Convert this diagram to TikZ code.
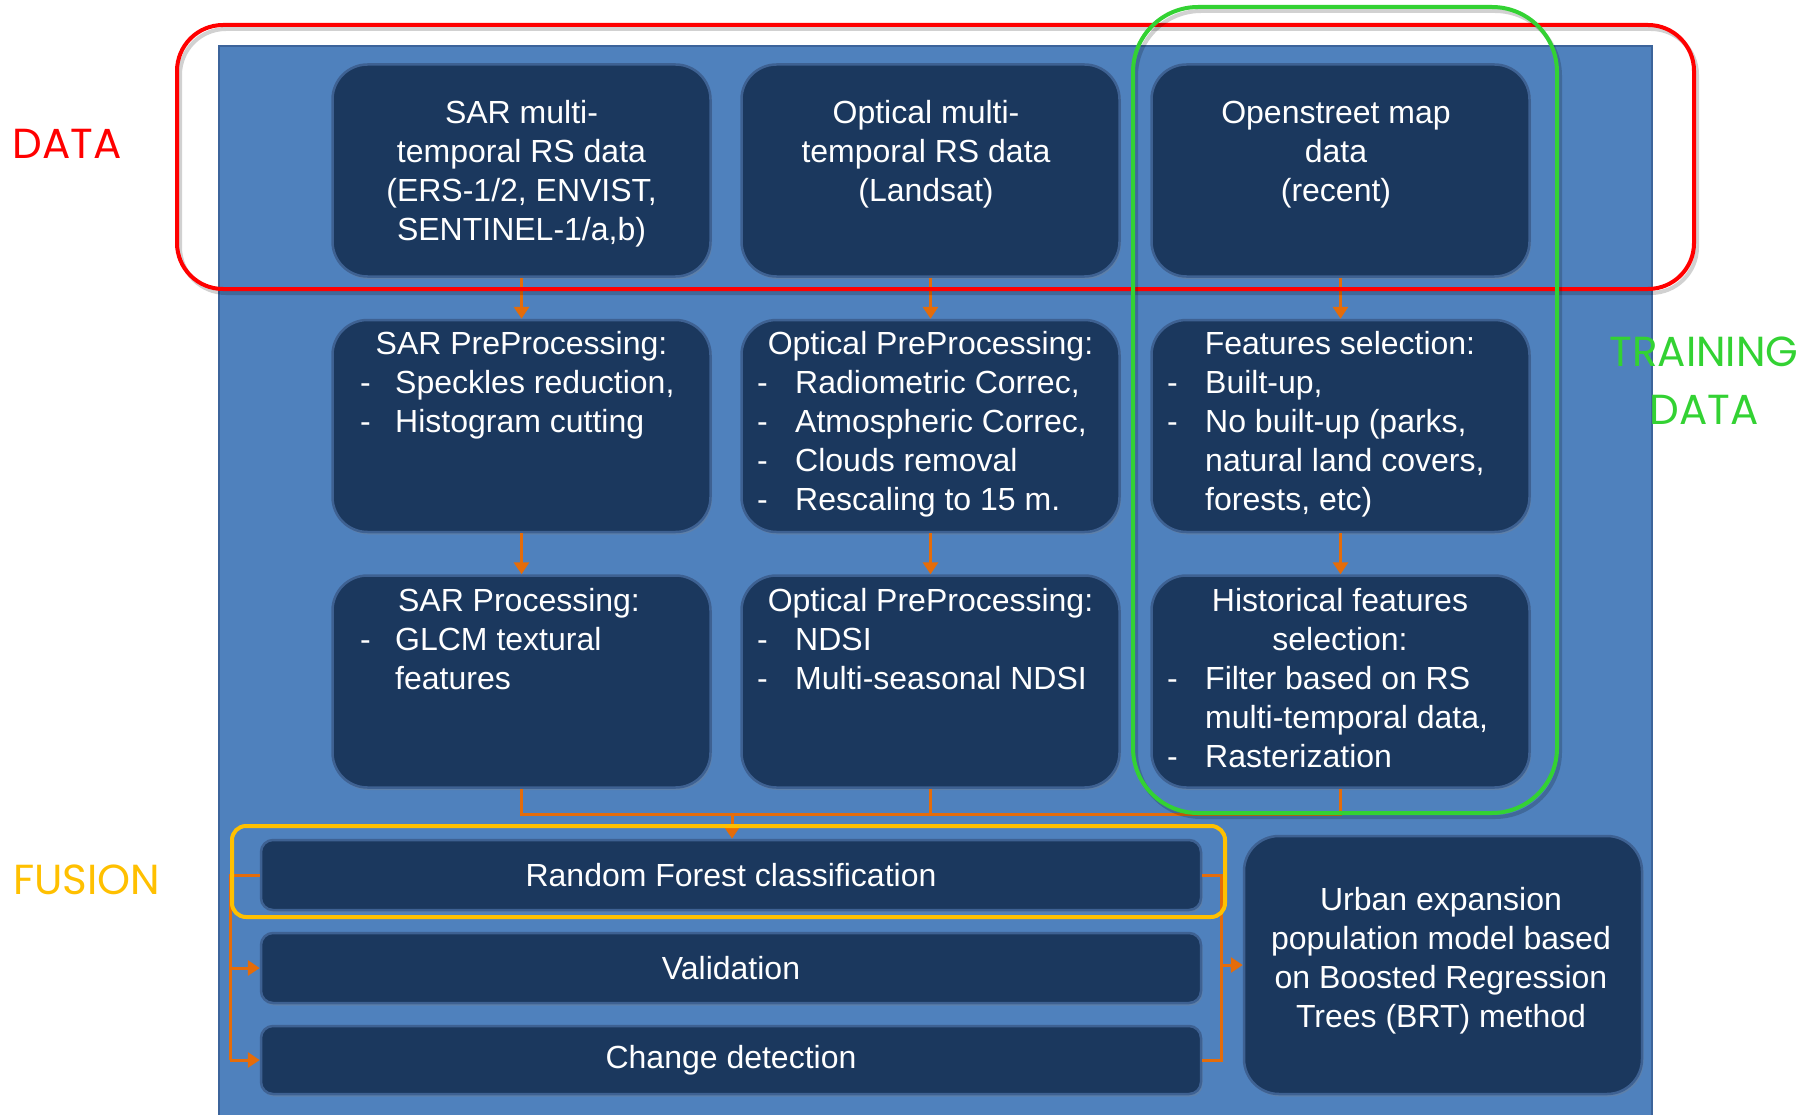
\documentclass[tikz,border=0pt]{standalone}
\usepackage{fontspec}
\setmainfont{Liberation Sans}
\newfontfamily\labfont{Poppins}
\usetikzlibrary{arrows.meta,shadows}
\definecolor{bgblue}{RGB}{79,129,189}
\definecolor{bgedge}{RGB}{60,100,155}
\definecolor{navy}{RGB}{27,56,94}
\definecolor{navyedge}{RGB}{62,97,146}
\definecolor{arrorange}{RGB}{228,108,10}
\definecolor{datared}{RGB}{255,0,0}
\definecolor{traingreen}{RGB}{51,210,51}
\definecolor{fusionyellow}{RGB}{255,192,0}
\newcounter{tln}
\newcommand\TL[4]{\stepcounter{tln}\node[txt,anchor=#1] (tl\arabic{tln}) at (#2,#3) {#4};}
\begin{document}
\begin{tikzpicture}[x=1pt,y=-1pt,
  bigbox/.style={draw=navyedge, line width=2.5pt, fill=navy, rounded corners=35pt,
    inner sep=0pt, minimum width=378pt, minimum height=212pt,
    drop shadow={opacity=0.3, shadow xshift=1.5pt, shadow yshift=-2.5pt}},
  barbox/.style={draw=navyedge, line width=2.5pt, fill=navy, rounded corners=12pt,
    inner sep=0pt, minimum width=940pt, text=white, font=\fontsize{32}{39}\selectfont,
    drop shadow={opacity=0.3, shadow xshift=1.5pt, shadow yshift=-2.5pt}},
  txt/.style={inner sep=0pt, text=white, font=\fontsize{32}{39}\selectfont},
  conn/.style={draw=arrorange, line width=3pt},
  arr/.style={draw=arrorange, line width=3pt, -{Triangle[width=15pt,length=12pt]}},
  frame/.style={line width=4pt},
  lab/.style={inner sep=0pt, font=\labfont\fontsize{42}{50}\selectfont}]
\useasboundingbox (0,0) rectangle (1811,1115);
\fill[white] (0,0) rectangle (1811,1115);
% background panel
\fill[bgblue] (219,46) rectangle (1652,1115);
\draw[bgedge, line width=1.5pt] (219,1115) -- (219,46) -- (1652,46) -- (1652,1115);

% top row
\node[bigbox] (s1) at (521.5,170.5) {};
\node[bigbox] (o1) at (930.5,170.5) {};
\node[bigbox] (m1) at (1340.5,170.5) {};
% middle row
\node[bigbox] (s2) at (521.5,426) {};
\node[bigbox] (o2) at (930.5,426) {};
\node[bigbox] (m2) at (1340.5,426) {};
% third row
\node[bigbox] (s3) at (521.5,681.5) {};
\node[bigbox] (o3) at (930.5,681.5) {};
\node[bigbox] (m3) at (1340.5,681.5) {};
% bottom bars
\node[barbox, minimum height=70pt] (rf) at (731,875) {Random Forest classification};
\node[barbox, minimum height=70pt] (val) at (731,968) {Validation};
\node[barbox, minimum height=68pt] (cd) at (731,1060) {Change detection};
\node[bigbox, minimum width=398pt, minimum height=258pt] (urb) at (1443,965) {};

% texts row 1
\TL{base}{521.5}{123.5}{SAR multi-}
\TL{base}{521.5}{162.5}{temporal RS data}
\TL{base}{521.5}{201.5}{(ERS-1/2, ENVIST,}
\TL{base}{521.5}{240.5}{SENTINEL-1/a,b)}
\TL{base}{926}{123.5}{Optical multi-}
\TL{base}{926}{162.5}{temporal RS data}
\TL{base}{926}{201.5}{(Landsat)}
\TL{base}{1336}{123.5}{Openstreet map}
\TL{base}{1336}{162.5}{data}
\TL{base}{1336}{201.5}{(recent)}
% row 2
\TL{base}{521.5}{354.5}{SAR PreProcessing:}
\TL{base west}{360}{393.5}{-}
\TL{base west}{395}{393.5}{Speckles reduction,}
\TL{base west}{360}{432.5}{-}
\TL{base west}{395}{432.5}{Histogram cutting}
\TL{base}{930.5}{354.5}{Optical PreProcessing:}
\TL{base west}{757}{393.5}{-}
\TL{base west}{795}{393.5}{Radiometric Correc,}
\TL{base west}{757}{432.5}{-}
\TL{base west}{795}{432.5}{Atmospheric Correc,}
\TL{base west}{757}{471.5}{-}
\TL{base west}{795}{471.5}{Clouds removal}
\TL{base west}{757}{510.5}{-}
\TL{base west}{795}{510.5}{Rescaling to 15 m.}
\TL{base}{1340}{354.5}{Features selection:}
\TL{base west}{1167}{393.5}{-}
\TL{base west}{1205}{393.5}{Built-up,}
\TL{base west}{1167}{432.5}{-}
\TL{base west}{1205}{432.5}{No built-up (parks,}
\TL{base west}{1205}{471.5}{natural land covers,}
\TL{base west}{1205}{510.5}{forests, etc)}
% row 3
\TL{base}{519}{611}{SAR Processing:}
\TL{base west}{360}{650}{-}
\TL{base west}{395}{650}{GLCM textural}
\TL{base west}{395}{689}{features}
\TL{base}{930.5}{611}{Optical PreProcessing:}
\TL{base west}{757}{650}{-}
\TL{base west}{795}{650}{NDSI}
\TL{base west}{757}{689}{-}
\TL{base west}{795}{689}{Multi-seasonal NDSI}
\TL{base}{1340}{611}{Historical features}
\TL{base}{1340}{650}{selection:}
\TL{base west}{1167}{689}{-}
\TL{base west}{1205}{689}{Filter based on RS}
\TL{base west}{1205}{728}{multi-temporal data,}
\TL{base west}{1167}{767}{-}
\TL{base west}{1205}{767}{Rasterization}
% urban
\TL{base}{1441}{910}{Urban expansion}
\TL{base}{1441}{949}{population model based}
\TL{base}{1441}{988}{on Boosted Regression}
\TL{base}{1441}{1027}{Trees (BRT) method}

% connectors
\draw[arr] (s1.south) -- (s2.north);
\draw[arr] (o1.south) -- (o2.north);
\draw[arr] (m1.south) -- (m2.north);
\draw[arr] (s2.south) -- (s3.north);
\draw[arr] (o2.south) -- (o3.north);
\draw[arr] (m2.south) -- (m3.north);
\coordinate (j) at (732,814);
\draw[conn] (s3.south) -- (s3.south |- j) -- (m3.south |- j) -- (m3.south);
\draw[conn] (o3.south) -- (o3.south |- j);
\draw[arr] (j) -- (j |- rf.north);
\coordinate (L) at (230,875);
\draw[conn] (rf.west) -- (L) -- (L |- cd.west);
\draw[arr] (L |- val.west) -- (val.west);
\draw[arr] (L |- cd.west) -- (cd.west);
\coordinate (R) at (1221,875);
\draw[conn] (rf.east) -- (R) -- (R |- cd.east) -- (cd.east);
\draw[arr] (R |- urb.west) -- (urb.west);

% frames
\draw[frame, black, opacity=0.18, rounded corners=46pt] (180,29) rectangle (1697,293);
\draw[frame, datared, rounded corners=46pt] (177,25) rectangle (1694,289);
\draw[frame, black, opacity=0.18, rounded corners=65pt] (1136,11) rectangle (1560,817);
\draw[frame, traingreen, rounded corners=65pt] (1133,7) rectangle (1557,813);
\draw[frame, fusionyellow, rounded corners=14pt] (232,826) rectangle (1225,917);

% side labels
\node[lab, text=datared] (ldata) at (67,144) {DATA};
\node[lab, text=traingreen] (ltrain1) at (1704,352) {TRAINING};
\node[lab, text=traingreen] (ltrain2) at (1704,410) {DATA};
\node[lab, text=fusionyellow] (lfusion) at (87,880) {FUSION};
\end{tikzpicture}
\end{document}
